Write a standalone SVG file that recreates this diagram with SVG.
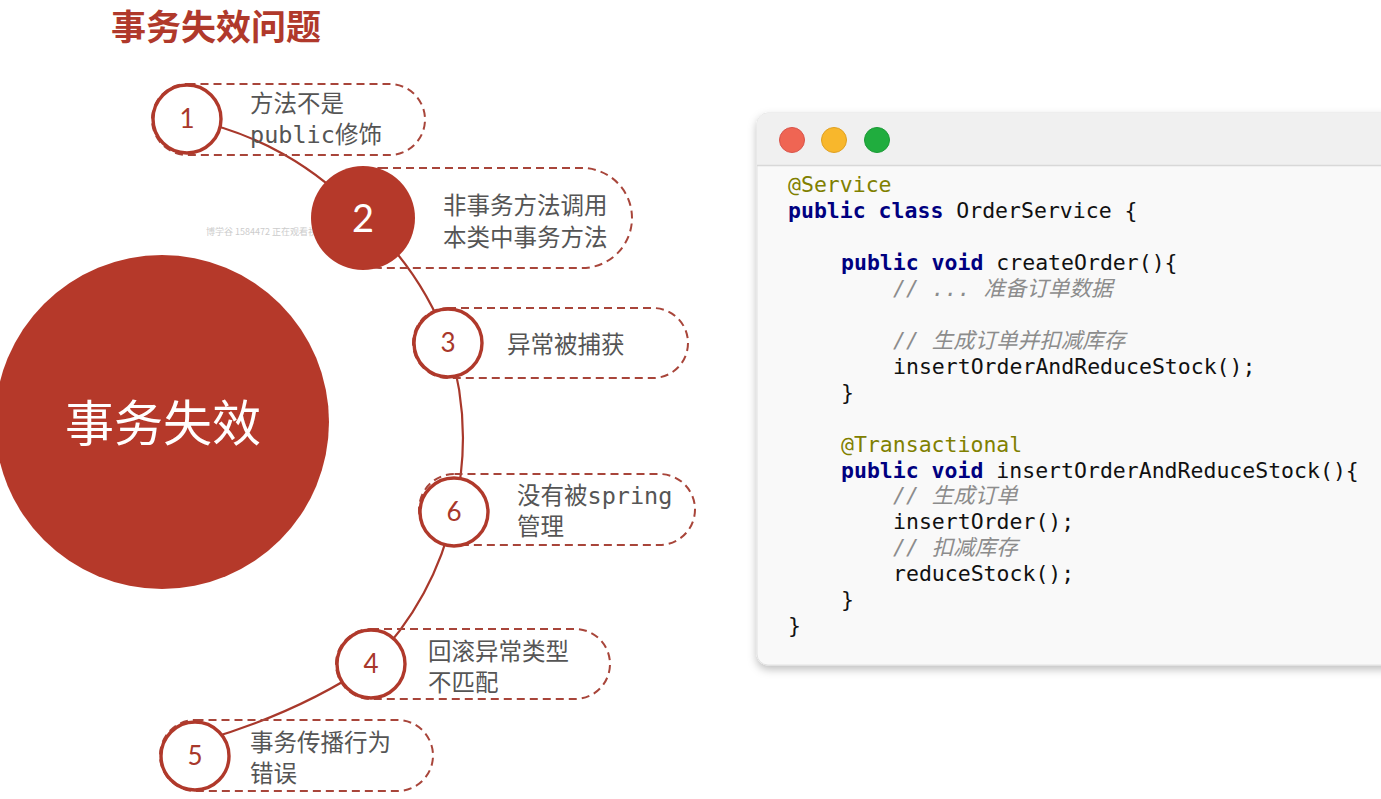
<svg xmlns="http://www.w3.org/2000/svg" width="1381" height="799" viewBox="0 0 1381 799">
<style>
.title{font-family:"Noto Sans CJK SC","Noto Sans",sans-serif;font-weight:bold;font-size:35px;fill:#b0392b}
.ring{fill:#ffffff;stroke:#b0392b;stroke-width:3.4}
.box{fill:none;stroke:#a8453a;stroke-width:2;stroke-dasharray:8 5}
.num{font-family:"Lato","Noto Sans",sans-serif;font-size:26px;fill:#a8382b;text-anchor:middle}
.lbl{font-family:"DejaVu Sans Mono","Noto Sans CJK SC",monospace;font-size:23.5px;fill:#555555}
.conn{fill:none;stroke:#a8382b;stroke-width:2.2}
.code{font-family:"DejaVu Sans Mono","Noto Sans CJK SC",monospace;font-size:21.5px;fill:#111111}
.kw{font-weight:bold;fill:#000080}
.ann{fill:#808000}
.cm{font-style:italic;fill:#8c8c8c}
</style>
<defs>
<filter id="sh" x="-5%" y="-5%" width="110%" height="115%">
<feDropShadow dx="0" dy="4" stdDeviation="4" flood-color="#000000" flood-opacity="0.25"/>
</filter>
</defs>
<rect width="1381" height="799" fill="#ffffff"/>
<text class="title" x="111" y="40">事务失效问题</text>

<g id="center">
<circle cx="162" cy="422" r="167" fill="#b5392a"/>
<text x="163" y="441" text-anchor="middle" font-family="Noto Sans CJK SC,sans-serif" font-size="49" fill="#ffffff">事务失效</text>
</g>

<g id="connectors">
<path class="conn" d="M187 119 A315 315 0 0 1 363 218 A315 315 0 0 1 448 343 A315 315 0 0 1 454 512 A315 315 0 0 1 371 664"/>
<path class="conn" d="M371 664 Q300 712 205 740"/>
</g>

<text x="206" y="235" font-family="Noto Sans CJK SC,sans-serif" font-size="9" fill="#cccccc">博学谷 1584472 正在观看视频</text>

<g id="node1">
<rect class="box" x="152" y="84" width="273" height="71" rx="35.5"/>
<circle class="ring" cx="187" cy="119" r="34"/>
<text class="num" x="187" y="128">1</text>
<text class="lbl" x="250" y="112">方法不是</text>
<text class="lbl" x="250" y="143">public修饰</text>
</g>

<g id="node2">
<rect class="box" x="330" y="168" width="302" height="100" rx="50"/>
<circle cx="363" cy="218" r="52" fill="#b5392a"/>
<text x="363" y="232" text-anchor="middle" font-family="Lato,sans-serif" font-size="38" fill="#ffffff">2</text>
<text class="lbl" x="443" y="214">非事务方法调用</text>
<text class="lbl" x="443" y="246">本类中事务方法</text>
</g>

<g id="node3">
<rect class="box" x="413" y="308" width="275" height="70" rx="35"/>
<circle class="ring" cx="448" cy="343" r="34"/>
<text class="num" x="448" y="352">3</text>
<text class="lbl" x="507" y="353">异常被捕获</text>
</g>

<g id="node6">
<rect class="box" x="419" y="474" width="276" height="71" rx="35.5"/>
<circle class="ring" cx="454" cy="512" r="34"/>
<text class="num" x="454" y="521">6</text>
<text class="lbl" x="517" y="504">没有被spring</text>
<text class="lbl" x="517" y="535">管理</text>
</g>

<g id="node4">
<rect class="box" x="336" y="629" width="274" height="70" rx="35"/>
<circle class="ring" cx="371" cy="664" r="34"/>
<text class="num" x="371" y="673">4</text>
<text class="lbl" x="428" y="660">回滚异常类型</text>
<text class="lbl" x="428" y="691">不匹配</text>
</g>

<g id="node5">
<rect class="box" x="160" y="720" width="273" height="71" rx="35.5"/>
<circle class="ring" cx="195" cy="756" r="34"/>
<text class="num" x="195" y="765">5</text>
<text class="lbl" x="250" y="751">事务传播行为</text>
<text class="lbl" x="250" y="782">错误</text>
</g>

<g id="code-window">
<rect x="757" y="113" width="640" height="552" rx="11" fill="#f9f9f9" stroke="#e2e2e2" stroke-width="1" filter="url(#sh)"/>
<path d="M757 165 V124 A11 11 0 0 1 768 113 H1397 V165 Z" fill="#f0f0f0"/>
<line x1="757" y1="165.5" x2="1381" y2="165.5" stroke="#d8d8d8" stroke-width="1.5"/>
<circle cx="792" cy="140" r="12.5" fill="#ef6553" stroke="#d9534a" stroke-width="1"/>
<circle cx="834" cy="140" r="12.5" fill="#f8b72c" stroke="#e0a020" stroke-width="1"/>
<circle cx="877" cy="140" r="12.5" fill="#20ad3e" stroke="#1a9a35" stroke-width="1"/>
<text class="code" x="788" y="192"><tspan class="ann">@Service</tspan></text>
<text class="code" x="788" y="218"><tspan class="kw">public class</tspan> OrderService {</text>
<text class="code" x="841" y="270"><tspan class="kw">public void</tspan> createOrder(){</text>
<text class="code cm" x="893" y="296">// ... 准备订单数据</text>
<text class="code cm" x="893" y="348">// 生成订单并扣减库存</text>
<text class="code" x="893" y="374">insertOrderAndReduceStock();</text>
<text class="code" x="841" y="400">}</text>
<text class="code" x="841" y="452"><tspan class="ann">@Transactional</tspan></text>
<text class="code" x="841" y="478"><tspan class="kw">public void</tspan> insertOrderAndReduceStock(){</text>
<text class="code cm" x="893" y="503">// 生成订单</text>
<text class="code" x="893" y="529">insertOrder();</text>
<text class="code cm" x="893" y="555">// 扣减库存</text>
<text class="code" x="893" y="581">reduceStock();</text>
<text class="code" x="841" y="607">}</text>
<text class="code" x="788" y="633">}</text>
</g>
</svg>
